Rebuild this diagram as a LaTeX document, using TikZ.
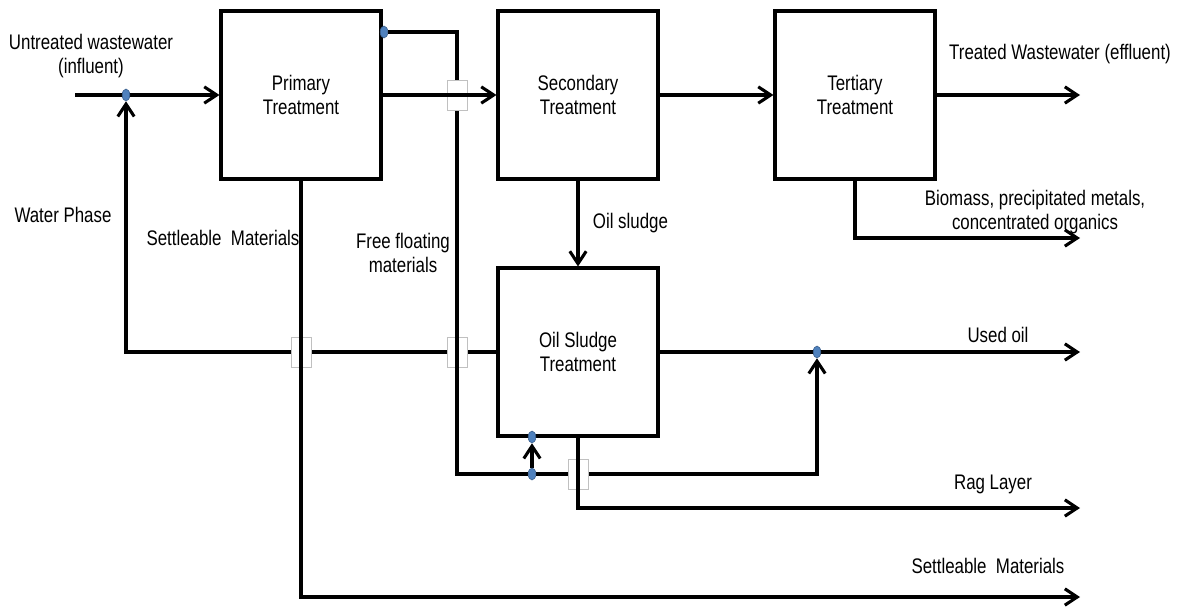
\documentclass[tikz,border=0pt]{standalone}
\usepackage{fontspec}
\setmainfont{Liberation Sans}[FakeStretch=0.8]
\usepackage{xcolor}
\definecolor{cLine}{HTML}{000000}
\definecolor{cDot}{HTML}{4F81BD}
\definecolor{cDotEdge}{HTML}{385D8A}
\definecolor{cGap}{HTML}{C0C0C0}
\usepackage{tikz}
\usetikzlibrary{positioning,arrows.meta,shapes.geometric,calc,backgrounds}
\tikzset{
  node-box/.style={draw=cLine,line width=2.2pt,minimum width=40mm,
    minimum height=42mm,align=center,inner sep=0pt},
  node-dot/.style={ellipse,draw=cDotEdge,fill=cDot,line width=0.4pt,
    minimum width=1.9mm,minimum height=3mm,inner sep=0pt},
  node-gap/.style={draw=cGap,fill=white,line width=0.5pt,
    minimum width=5mm,minimum height=7.5mm,inner sep=0pt},
  node-text/.style={align=center,inner sep=1pt},
  pipe/.style={line width=2.2pt,draw=cLine},
  arrow/.style={pipe,-{Straight Barb[length=3.1mm,width=4.1mm]}},
}

\begin{document}
\begin{tikzpicture}[x=0.25mm,y=-0.25mm,font=\fontsize{15}{17.5}\selectfont]
  \useasboundingbox (0,0) rectangle (1189,606);
  % treatment stages
  \node[node-box] (prim) at (301,95)  {Primary\\Treatment};
  \node[node-box] (sec)  at (578,95)  {Secondary\\Treatment};
  \node[node-box] (ter)  at (855,95)  {Tertiary\\Treatment};
  \node[node-box] (osl)  at (578,352) {Oil Sludge\\Treatment};
  % junction dots
  \node[node-dot] (wp)  at (126,95)  {};
  \node[node-dot] (ffd) at (384,32)  {};
  \node[node-dot] (up)  at (532,437) {};
  \node[node-dot] (j1)  at (532,474) {};
  \node[node-dot] (uo)  at (817,352) {};
  % free ends
  \coordinate (inf)     at (75,95);
  \coordinate (eff)     at (1080,95);
  \coordinate (bio)     at (1080,238);
  \coordinate (usedoil) at (1080,352);
  \coordinate (rag)     at (1080,508);
  \coordinate (sm)      at (1080,597);
  \coordinate (ffc)     at (457,474);

  \begin{scope}[on background layer]
    \draw[arrow] (osl.west) -| (wp);
    \node[node-gap] (g2) at (301,352) {};
    \node[node-gap] (g3) at (457,352) {};
    \draw[pipe]  (ffd) -| (ffc) -- (j1);
    \draw[arrow] (j1) -- (up);
    \draw[arrow] (prim.south) |- (sm);
    \node[node-gap] (g1) at (457,95) {};
    \draw[arrow] (inf) -- (prim);
    \draw[arrow] (prim) -- (sec);
    \draw[arrow] (j1) -| (uo);
    \node[node-gap] (g4) at (578,474) {};
    \draw[arrow] (osl.south) |- (rag);
    \draw[arrow] (sec) -- (ter);
    \draw[arrow] (ter) -- (eff);
    \draw[arrow] (ter.south) |- (bio);
    \draw[arrow] (sec) -- node[right=3mm,node-text] {Oil sludge} (osl);
    \draw[arrow] (osl.east) -- (usedoil);
  \end{scope}

  % labels
  \node[node-text] (l-inf) at (91,56)   {Untreated wastewater\\(influent)};
  \node[node-text] (l-eff) at (1060,54) {Treated Wastewater (effluent)};
  \node[node-text] (l-bio) at (1035,212) {Biomass, precipitated metals,\\concentrated organics};
  \node[node-text] (l-wp)  at (63,215)  {Water Phase};
  \node[node-text] (l-sm1) at (223,238) {Settleable\ \ Materials};
  \node[node-text] (l-ff)  at (403,253) {Free floating\\materials};
  \node[node-text] (l-uo)  at (998,335) {Used oil};
  \node[node-text] (l-rag) at (993,484) {Rag Layer};
  \node[node-text] (l-sm2) at (988,566) {Settleable\ \ Materials};
\end{tikzpicture}
\end{document}
